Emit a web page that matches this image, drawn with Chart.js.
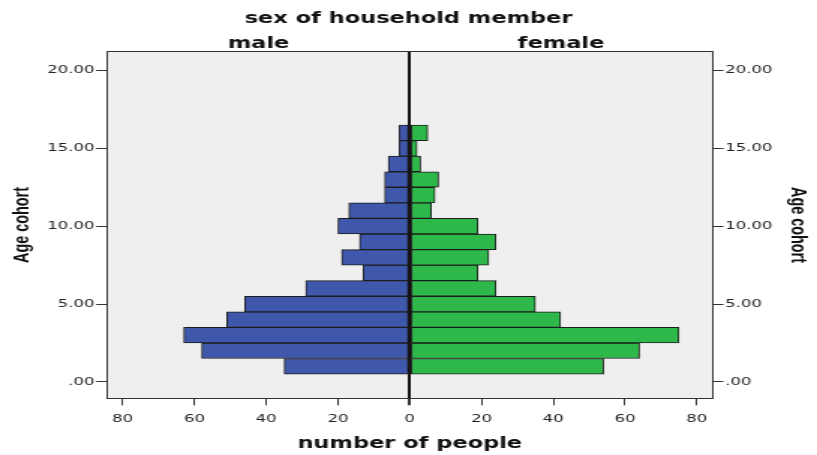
<!DOCTYPE html>
<html>
<head>
<meta charset="utf-8">
<script src="https://cdn.jsdelivr.net/npm/chart.js@4.4.0/dist/chart.umd.min.js"></script>
<style>
  html, body { margin: 0; padding: 0; background: #fff; overflow: hidden; }
  /* the reference is stretched sideways, so draw narrow and widen */
  #wrap { width: 545px; height: 455px; transform: scaleX(1.499083); transform-origin: 0 0; }
</style>
</head>
<body>
<div id="wrap"><canvas id="piramide"></canvas></div>
<script>
// ======= DADOS =======
const ages = [1, 2, 3, 4, 5, 6, 7, 8, 9, 10, 11, 12, 13, 14, 15, 16];
const maleCounts   = [35, 58, 63, 51, 46, 29, 13, 19, 14, 20, 17, 7, 7, 6, 3, 3];
const femaleCounts = [54, 64, 75, 42, 35, 24, 19, 22, 24, 19, 6, 7, 8, 3, 2, 5];
const sexLabels = ["male", "female"];
const ageTicks = [0, 5, 10, 15, 20];
const peopleTicks = [-80, -60, -40, -20, 0, 20, 40, 60, 80];

// ======= ESTILO =======
const FONT = "DejaVu Sans";
const X_MAX = 84.3;
const Y_MIN = -1.054, Y_MAX = 21.21;
const fmtAge = v => v === 0 ? ".00" : v.toFixed(2).replace(/^0/, "");

const fundo = {
  id: "fundo",
  beforeDraw(chart) {
    const { ctx, chartArea: a } = chart;
    ctx.save();
    ctx.fillStyle = "#efefef";
    ctx.fillRect(a.left, a.top, a.right - a.left, a.bottom - a.top);
    ctx.restore();
  }
};

const yAxis = (pos, pad) => ({
  type: "linear",
  position: pos,
  min: Y_MIN,
  max: Y_MAX,
  offset: false,
  stacked: true,
  afterBuildTicks: s => { s.ticks = ageTicks.map(v => ({ value: v })); },
  afterFit: s => { s.width = pos === "left" ? 71.58 : 69.85; },
  ticks: { callback: v => fmtAge(v), color: "#222", padding: 1, font: { family: FONT, size: 11 } },
  grid: { display: true, offset: false, drawOnChartArea: false, drawTicks: true, tickLength: 7.5, color: "#333" },
  border: { display: true, color: "#333", width: 1 },
  title: {
    display: true, text: "Age cohort", color: "#111",
    font: { family: "Liberation Sans", size: 14.4, weight: "bold" },
    padding: { top: pad, bottom: 0 }
  }
});

// ======= GRÁFICO =======
new Chart(document.getElementById("piramide"), {
  type: "bar",
  data: {
    datasets: [
      {
        label: sexLabels[0],
        data: ages.map((a, i) => ({ x: -maleCounts[i], y: a })),
        backgroundColor: "#3f58ab",
        borderColor: "#1c1c1c",
        borderWidth: 1,
        borderSkipped: false,
        barPercentage: 1,
        categoryPercentage: 1
      },
      {
        label: sexLabels[1],
        data: ages.map((a, i) => ({ x: femaleCounts[i], y: a })),
        backgroundColor: "#2fb84a",
        borderColor: "#1c1c1c",
        borderWidth: 1,
        borderSkipped: false,
        barPercentage: 1,
        categoryPercentage: 1
      }
    ]
  },
  options: {
    indexAxis: "y",
    responsive: true,
    maintainAspectRatio: false,
    animation: false,
    layout: { padding: 0 },
    plugins: {
      legend: { display: false },
      tooltip: { enabled: false },
      title: {
        display: true,
        text: "sex of household member",
        color: "#111",
        font: { family: FONT, size: 15, weight: "bold" },
        padding: { top: 10, bottom: 6 }
      }
    },
    scales: {
      x: {
        type: "linear",
        position: "bottom",
        min: -X_MAX,
        max: X_MAX,
        stacked: true,
        z: 1,
        afterBuildTicks: s => { s.ticks = peopleTicks.map(v => ({ value: v })); },
        afterFit: s => { s.height = 56.7; },
        ticks: { callback: v => Math.abs(v), color: "#222", padding: 7.5, maxRotation: 0, font: { family: FONT, size: 11 } },
        grid: {
          display: true,
          drawOnChartArea: true,
          drawTicks: true,
          tickLength: 7,
          color: c => (c.tick && c.tick.value === 0) ? "#111" : "rgba(0,0,0,0)",
          lineWidth: c => (c.tick && c.tick.value === 0) ? 2 : 1,
          tickColor: "#333",
          tickWidth: c => (c.tick && c.tick.value === 0) ? 2 : 1
        },
        border: { display: true, color: "#333", width: 1 },
        title: {
          display: true, text: "number of people", color: "#111",
          font: { family: FONT, size: 15, weight: "bold" },
          padding: { top: 0, bottom: 1.6 }
        }
      },
      x2: {
        type: "linear",
        position: "top",
        min: -X_MAX,
        max: X_MAX,
        afterBuildTicks: s => { s.ticks = [{ value: -X_MAX / 2 }, { value: X_MAX / 2 }]; },
        afterFit: s => { s.height = 17.7; },
        ticks: {
          callback: v => v < 0 ? sexLabels[0] : sexLabels[1],
          color: "#111", padding: 0, maxRotation: 0, autoSkip: false,
          font: { family: FONT, size: 15, weight: "bold", lineHeight: 1 }
        },
        grid: { display: false, drawTicks: false },
        border: { display: true, color: "#333", width: 1 }
      },
      y: yAxis("left", 6),
      y2: yAxis("right", 4)
    }
  },
  plugins: [fundo]
});
</script>
</body>
</html>
